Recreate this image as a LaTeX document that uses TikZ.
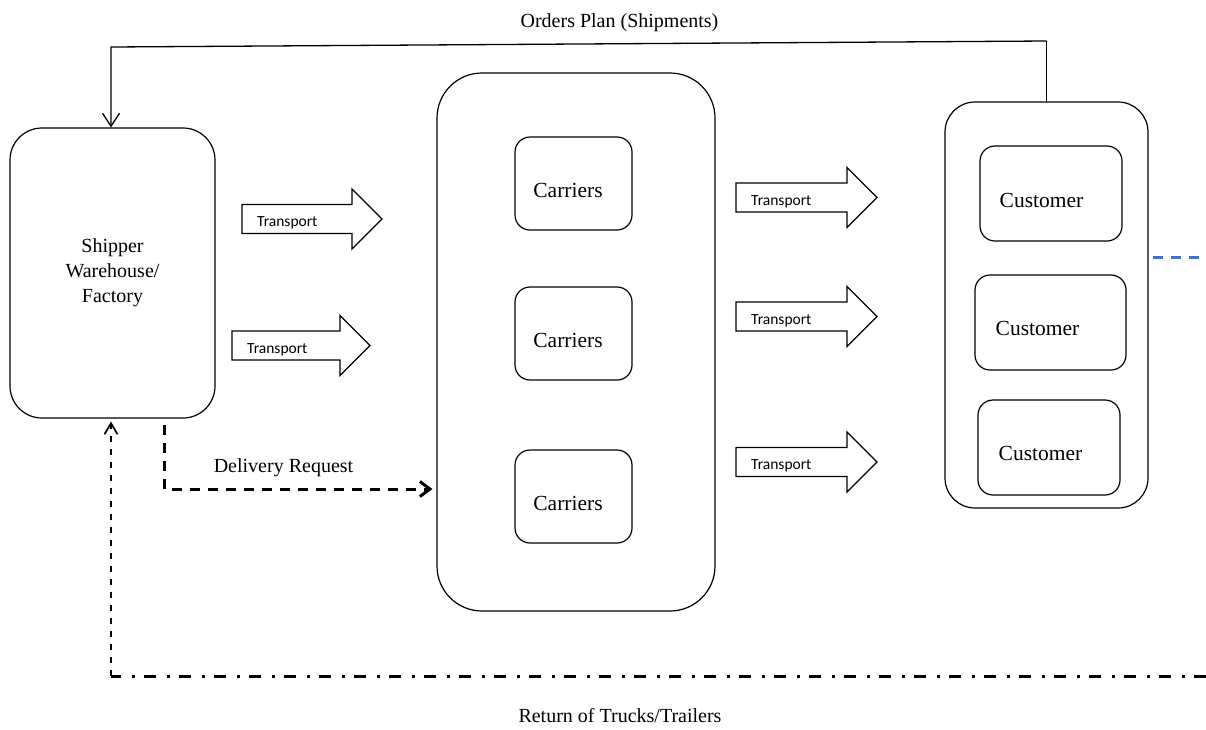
\documentclass[tikz,border=0pt]{standalone}
\usepackage{fontspec}
\setmainfont{Liberation Serif}
\newfontfamily\calibrifont{Carlito}
\usetikzlibrary{arrows.meta}
\definecolor{msblue}{HTML}{4472C4}
\newcommand\tarrow[4]{%
  \draw[tarrowshape] (#2,#3) ++(0,-14.5) -- ++(#4,0) -- ++(0,-15.5) -- ++(30,30) -- ++(-30,30) -- ++(0,-15.5) -- ++(-#4,0) -- cycle;
  \node[tlbl, anchor=base west] (#1) at (#2+15,#3+7.5) {Transport};}
\begin{document}
\begin{tikzpicture}[x=1pt,y=-1pt,
  box/.style={draw, line width=1.2pt, rounded corners=#1, inner sep=0pt},
  box/.default=15,
  lbl/.style={font=\fontsize{21.5}{25}\selectfont, inner sep=0pt},
  mlbl/.style={font=\fontsize{20}{24}\selectfont, inner sep=0pt},
  tlbl/.style={font=\calibrifont\fontsize{15.5}{18}\selectfont, inner sep=0pt},
  tarrowshape/.style={draw, line width=1.2pt, line join=miter},
  conn/.style={draw, line width=1.3pt},
  deliv/.style={draw, line width=3pt, dash pattern=on 10pt off 8pt, -{Straight Barb[length=10pt,width=15pt,line width=3pt]}},
  retline/.style={draw, line width=3pt, dash pattern=on 12pt off 9pt on 3pt off 11pt},
  retvert/.style={draw, line width=1.7pt, dash pattern=on 6pt off 7pt, -{Straight Barb[length=11pt,width=13pt,line width=1.7pt]}},
  blued/.style={draw=msblue, line width=3pt, dash pattern=on 10pt off 8pt}
]
\useasboundingbox (0,0) rectangle (1206,729);

% Shipper
\node[box=32, minimum width=205, minimum height=290, align=center, font=\fontsize{20}{25}\selectfont] (ship) at (112.5,273) {Shipper\\Warehouse/\\Factory};

% Carriers
\node[box=45, minimum width=278, minimum height=538] (carc) at (576,342) {};
\node[box, minimum width=117, minimum height=93] (car1) at (573.5,183.5) {};
\node[box, minimum width=117, minimum height=93] (car2) at (573.5,333.5) {};
\node[box, minimum width=117, minimum height=93] (car3) at (573.5,496.5) {};
\node[lbl] (car1t) at (568,190) {Carriers};
\node[lbl] (car2t) at (568,340) {Carriers};
\node[lbl] (car3t) at (568,503) {Carriers};

% Customers
\node[box=30, minimum width=203, minimum height=406] (custc) at (1046.5,305) {};
\node[box, minimum width=142, minimum height=95] (cust1) at (1051,193.5) {};
\node[box, minimum width=151, minimum height=95] (cust2) at (1050.5,322.5) {};
\node[box, minimum width=142, minimum height=95] (cust3) at (1049,447.5) {};
\node[lbl] (cust1t) at (1041.5,200) {Customer};
\node[lbl] (cust2t) at (1037.5,328.5) {Customer};
\node[lbl] (cust3t) at (1040.5,453.5) {Customer};

% Transport arrows
\tarrow{t1}{242}{219}{110}
\tarrow{t2}{232}{345.5}{108}
\tarrow{t3}{736}{197.5}{111}
\tarrow{t4}{736}{316.5}{111}
\tarrow{t5}{736}{462}{111}

% Orders plan
\coordinate (o1) at (1046.5,41);
\coordinate (o2) at (111,47);
\draw[conn] (custc.north) -- (o1);
\draw[conn, -{Straight Barb[length=13pt,width=17pt]}] (o1) -- (o2) -- (o2 |- ship.north);
\node[mlbl, anchor=base] (ordlbl) at (619.5,27) {Orders Plan (Shipments)};

% Delivery request
\coordinate (d0) at (164,425);
\coordinate (d1) at (164,489);
\draw[deliv] (d0) -- (d1) -- ([xshift=-4pt]d1 -| carc.west);
\node[mlbl, anchor=base] (dellbl) at (283.5,472) {Delivery Request};

% Return
\coordinate (r0) at (1206,676);
\coordinate (r1) at (111,676);
\draw[retline] (r0) -- (r1);
\draw[retvert] (r1) -- ([yshift=-3pt]r1 |- ship.south);
\node[mlbl, anchor=base] (retlbl) at (620,722) {Return of Trucks/Trailers};

% Blue dashes
\coordinate (b0) at (1153,257);
\coordinate (b1) at (1206,257);
\draw[blued] (b0) -- (b1);
\end{tikzpicture}
\end{document}
